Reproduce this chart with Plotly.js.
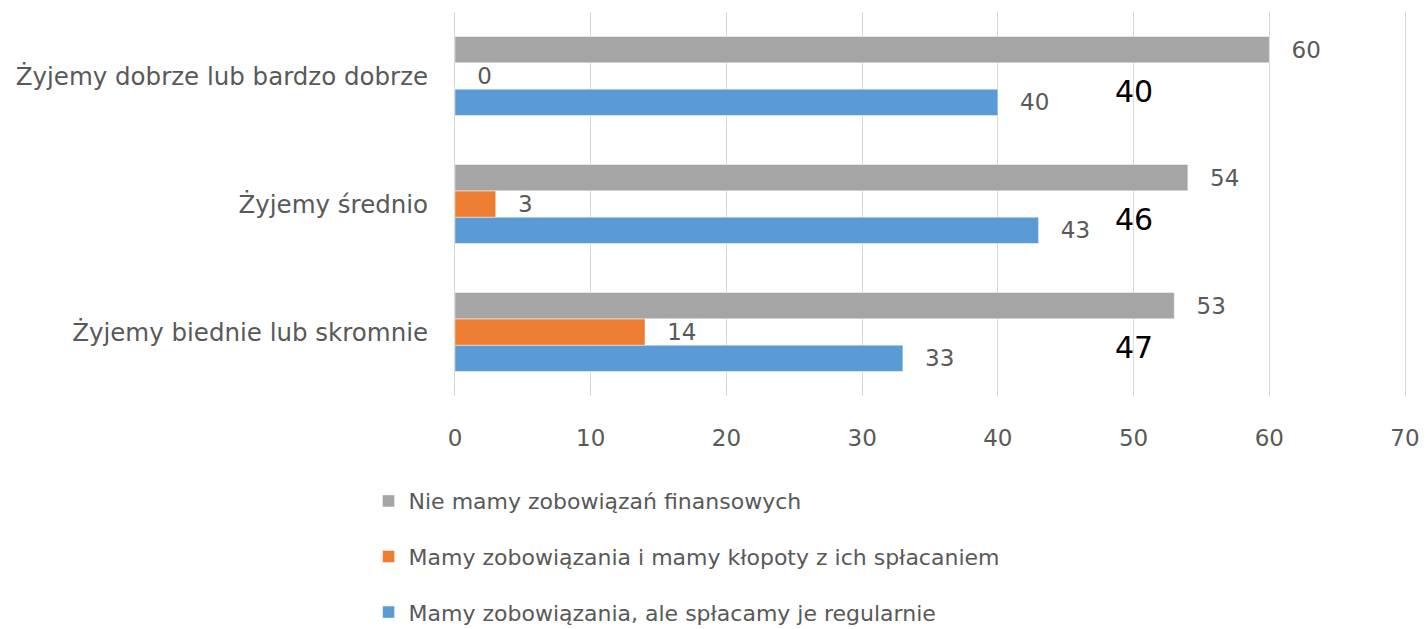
<!DOCTYPE html>
<html>
<head>
<meta charset="utf-8">
<script src="https://cdn.plot.ly/plotly-3.0.1.min.js"></script>
<style>html,body{margin:0;padding:0;background:#fff;}</style>
</head>
<body>
<div id="chart" style="width:1426px;height:629px;"></div>
<script>
// categories listed bottom-to-top (Plotly draws first category at the bottom)
const categories = ["Żyjemy biednie lub skromnie", "Żyjemy średnio", "Żyjemy dobrze lub bardzo dobrze"];
const seriesNames = [
  "Mamy zobowiązania, ale spłacamy je regularnie",
  "Mamy zobowiązania i mamy kłopoty z ich spłacaniem",
  "Nie mamy zobowiązań finansowych"
];
const regularValues = [33, 43, 40];
const troubleValues = [14, 3, 0];
const noDebtValues = [53, 54, 60];
const totalValues = [47, 46, 40];
const totalPosition = 50;
const xTicks = [0, 10, 20, 30, 40, 50, 60, 70];

const colors = ["#5B9BD5", "#ED7D31", "#A5A5A5"];
const seriesValues = [regularValues, troubleValues, noDebtValues];
const FONT = "DejaVu Sans";
const GREY = "#595959";

const traces = seriesValues.map((vals, i) => ({
  type: "bar",
  orientation: "h",
  name: seriesNames[i],
  y: categories,
  x: vals,
  legendgroup: "g" + i,
  legendrank: seriesValues.length - i,
  marker: { color: colors[i], line: { color: "rgba(255,255,255,0.45)", width: 1 } },
  text: vals.map(String),
  texttemplate: "\u00a0\u00a0\u2009%{x}",
  textposition: "outside",
  cliponaxis: false,
  textfont: { family: FONT, size: 23, color: GREY },
  hoverinfo: "skip"
}));

const annotations = totalValues.map((v, i) => ({
  x: totalPosition,
  y: categories[i],
  xref: "x",
  yref: "y",
  text: String(v),
  showarrow: false,
  xanchor: "center",
  yanchor: "middle",
  yshift: -15,
  font: { family: FONT, size: 30, color: "#000000" }
}));

const layout = {
  width: 1426,
  height: 629,
  margin: { l: 455, r: 21, t: 12, b: 233, autoexpand: false },
  paper_bgcolor: "#ffffff",
  plot_bgcolor: "#ffffff",
  barmode: "group",
  bargap: 0.383,
  bargroupgap: 0,
  font: { family: FONT, color: GREY },
  xaxis: {
    range: [0, 70],
    tickvals: xTicks,
    ticktext: xTicks.map(String),
    showgrid: true,
    gridcolor: "#D9D9D9",
    gridwidth: 1,
    zeroline: false,
    showline: false,
    ticks: "",
    ticklabelstandoff: 26,
    tickfont: { family: FONT, size: 23, color: GREY },
    fixedrange: true
  },
  yaxis: {
    categoryorder: "array",
    categoryarray: categories,
    showgrid: false,
    zeroline: false,
    showline: true,
    mirror: true,
    linecolor: "#D9D9D9",
    linewidth: 1,
    ticks: "",
    ticklabelstandoff: 21,
    tickfont: { family: FONT, size: 24.5, color: GREY },
    fixedrange: true
  },
  showlegend: true,
  legend: {
    orientation: "v",
    traceorder: "grouped",
    tracegroupgap: 24,
    x: -0.091,
    xanchor: "left",
    y: -0.219,
    yanchor: "top",
    font: { family: FONT, size: 22, color: GREY },
    itemwidth: 30,
    bgcolor: "rgba(0,0,0,0)"
  },
  annotations: annotations
};

Plotly.newPlot("chart", traces, layout, { staticPlot: true, displayModeBar: false });
</script>
</body>
</html>
